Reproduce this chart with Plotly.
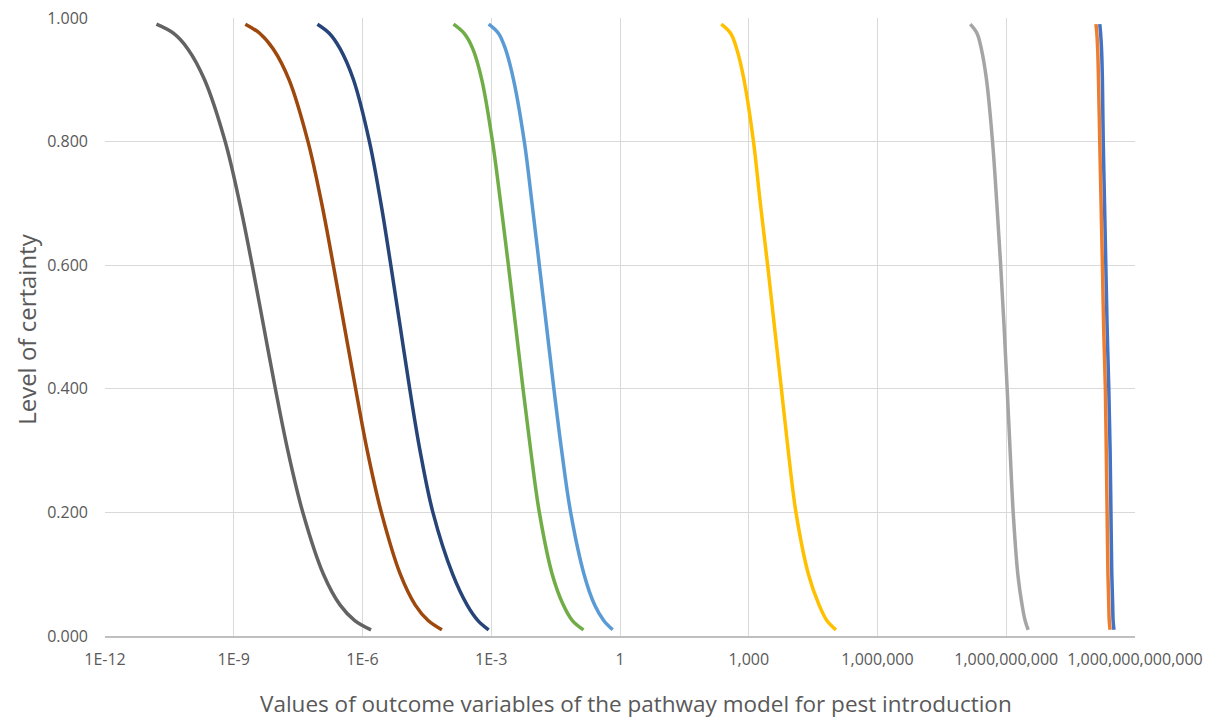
import plotly.graph_objects as go

# Certainty levels shared by every curve (y axis)
certainty = [0.99, 0.975, 0.95, 0.90, 0.80, 0.70, 0.60, 0.50, 0.40, 0.30, 0.20, 0.10, 0.05, 0.025, 0.01]

# Outcome-variable values at each certainty level, one list per series
series_1 = [1.51e11, 1.58e11, 1.66e11, 1.74e11, 1.82e11, 1.95e11, 2.09e11, 2.24e11,
            2.45e11, 2.63e11, 2.75e11, 2.88e11, 3.02e11, 3.09e11, 3.24e11]
series_2 = [1.23e11, 1.29e11, 1.35e11, 1.41e11, 1.51e11, 1.62e11, 1.74e11, 1.86e11,
            2.04e11, 2.14e11, 2.24e11, 2.34e11, 2.45e11, 2.51e11, 2.63e11]
series_3 = [1.45e8, 2.09e8, 2.63e8, 3.47e8, 4.79e8, 6.03e8, 7.41e8, 8.91e8,
            1.05e9, 1.23e9, 1.45e9, 1.86e9, 2.34e9, 2.75e9, 3.24e9]
series_4 = [229, 380, 525, 776, 1288, 1862, 2754, 3981,
            5754, 8318, 12590, 24550, 43650, 66070, 107200]
series_5 = [8.71e-4, 1.48e-3, 2.14e-3, 3.31e-3, 5.89e-3, 8.91e-3, 1.32e-2, 1.95e-2,
            2.88e-2, 4.37e-2, 7.08e-2, 0.145, 0.257, 0.417, 0.676]
series_6 = [1.32e-4, 2.34e-4, 3.72e-4, 6.03e-4, 1.07e-3, 1.66e-3, 2.51e-3, 3.72e-3,
            5.50e-3, 8.32e-3, 1.32e-2, 2.63e-2, 4.79e-2, 7.76e-2, 0.141]
series_7 = [8.91e-8, 1.70e-7, 3.02e-7, 6.17e-7, 1.45e-6, 2.69e-6, 4.57e-6, 7.59e-6,
            1.26e-5, 2.19e-5, 4.37e-5, 1.26e-4, 2.75e-4, 4.90e-4, 8.71e-4]
series_8 = [1.86e-9, 4.07e-9, 8.32e-9, 1.95e-8, 5.37e-8, 1.12e-7, 2.09e-7, 3.80e-7,
            6.92e-7, 1.29e-6, 2.75e-6, 7.59e-6, 1.70e-5, 3.39e-5, 7.08e-5]
series_9 = [1.58e-11, 3.98e-11, 8.51e-11, 2.09e-10, 6.31e-10, 1.38e-9, 2.69e-9, 5.01e-9,
            9.33e-9, 1.82e-8, 4.07e-8, 1.23e-7, 3.02e-7, 6.61e-7, 1.58e-6]

series_values = [series_1, series_2, series_3, series_4, series_5,
                 series_6, series_7, series_8, series_9]
series_names = ["Outcome 1", "Outcome 2", "Outcome 3", "Outcome 4", "Outcome 5",
                "Outcome 6", "Outcome 7", "Outcome 8", "Outcome 9"]
series_colors = ["#4472C4", "#ED7D31", "#A5A5A5", "#FFC000", "#5B9BD5",
                 "#70AD47", "#264478", "#9E480E", "#636363"]

# Tick positions and labels for the logarithmic x axis
x_tickvals = [1e-12, 1e-9, 1e-6, 1e-3, 1, 1e3, 1e6, 1e9, 1e12]
x_ticktext = ["1E-12", "1E-9", "1E-6", "1E-3", "1", "1,000", "1,000,000",
              "1,000,000,000", "1,000,000,000,000"]

x_title = "Values of outcome variables of the pathway model for pest introduction"
y_title = "Level of certainty"

FONT = "'Open Sans', Lato, sans-serif"
TEXT_COLOR = "#595959"

fig = go.Figure()
for name, vals, color in zip(series_names, series_values, series_colors):
    fig.add_trace(go.Scatter(
        x=vals, y=certainty, name=name, mode="lines",
        line=dict(color=color, width=3.5, shape="spline", smoothing=1.0),
        showlegend=False,
    ))

fig.update_layout(
    width=1214, height=720,
    margin=dict(l=105, r=79, t=18, b=84),
    paper_bgcolor="white", plot_bgcolor="white",
    font=dict(family=FONT, color=TEXT_COLOR, size=16),
)

fig.update_xaxes(
    type="log", range=[-12, 12], automargin=False,
    tickmode="array", tickvals=x_tickvals, ticktext=x_ticktext,
    showgrid=True, gridcolor="#D9D9D9", gridwidth=1,
    showline=True, linecolor="#BFBFBF", linewidth=1.5,
    zeroline=False, ticks="", ticklabelstandoff=8,
    tickfont=dict(size=16, color=TEXT_COLOR),
)

fig.update_yaxes(
    range=[0, 1], dtick=0.2, tickformat=".3f", automargin=False,
    showgrid=True, gridcolor="#D9D9D9", gridwidth=1,
    showline=False, zeroline=False, ticks="", ticklabelstandoff=16,
    tickfont=dict(size=16, color=TEXT_COLOR),
)

# Axis titles placed as paper-anchored annotations
fig.add_annotation(
    text=x_title, xref="paper", yref="paper",
    x=0.5155, y=0, yshift=-67, xanchor="center", yanchor="middle",
    showarrow=False, borderpad=0, font=dict(size=22.5, color=TEXT_COLOR),
)
fig.add_annotation(
    text=y_title, xref="paper", yref="paper",
    x=0, xshift=-78, y=0.497, xanchor="center", yanchor="middle",
    textangle=-90, showarrow=False, borderpad=0, font=dict(size=24, color=TEXT_COLOR),
)

fig.write_html("out.html")
